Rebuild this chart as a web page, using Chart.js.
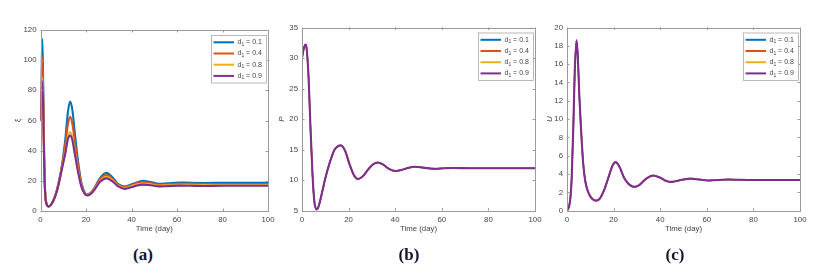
<!DOCTYPE html>
<html>
<head>
<meta charset="utf-8">
<script src="https://cdn.jsdelivr.net/npm/chart.js@4.4.1/dist/chart.umd.min.js"></script>
<style>
  html, body { margin: 0; padding: 0; background: #ffffff; }
  body { width: 822px; height: 275px; position: relative; overflow: hidden; }
  .panel { position: absolute; top: 0; }
  .plabel { position: absolute; top: 245px; font-family: "Liberation Serif", "DejaVu Serif", serif;
            font-weight: bold; font-size: 17px; color: #14142e; transform: translateX(-50%); white-space: nowrap; }
</style>
</head>
<body>
<div class="panel" style="left:0px"><canvas id="ca" width="280" height="240"></canvas></div>
<div class="panel" style="left:270px"><canvas id="cb" width="280" height="240"></canvas></div>
<div class="panel" style="left:540px"><canvas id="cc" width="282" height="240"></canvas></div>
<div class="plabel" style="left:143px">(a)</div>
<div class="plabel" style="left:409px">(b)</div>
<div class="plabel" style="left:675px">(c)</div>
<script>
// ---------------- data ----------------
const d1Values = ['0.1', '0.4', '0.8', '0.9'];
const seriesColors = ['#0072BD', '#D95319', '#EDB120', '#7E2F8E'];
const xTicks = [0, 20, 40, 60, 80, 100];

// panel (a): xi
const timeA = [0, 0.4, 0.8, 1.2, 1.6, 2.0, 2.6, 3.6, 5, 6.5, 8, 9.5, 11, 12, 13, 14, 15, 16.5, 18, 19.5, 20.5, 22, 24, 26, 29, 31.5, 34, 37, 41, 45, 48.5, 52, 56, 61, 66, 72, 80, 90, 100];
const xiD01 = [60, 92, 114, 82, 38, 14, 5, 3, 5, 10, 19, 31, 49, 65, 72.5, 67, 53, 33, 18.5, 12, 11, 12, 16, 21.5, 25.3, 22.5, 18, 16.2, 18.2, 20, 19.2, 18, 18.4, 18.9, 18.7, 18.6, 18.7, 18.7, 18.7];
const xiD04 = [60, 84, 102, 76, 36, 13.5, 5, 3, 5, 10, 18.5, 30, 45, 57, 62.4, 58, 47, 30, 17.5, 11.8, 10.7, 11.8, 15.5, 20.5, 23.8, 21.5, 17.5, 15.7, 17.6, 19.2, 18.5, 17.4, 17.7, 18.1, 18, 17.9, 17.9, 17.9, 17.9];
const xiD08 = [60, 77, 88.4, 69, 34, 13, 5, 3, 5, 10, 18, 29, 40, 49, 52.2, 49, 40, 27, 16.5, 11.5, 10.5, 11.5, 15, 19.5, 22.6, 20.5, 17, 15.2, 17, 18.2, 17.7, 16.8, 17.1, 17.4, 17.3, 17.2, 17.2, 17.2, 17.2];
const xiD09 = [60, 75, 86, 67, 33, 12.8, 5, 3, 5, 10, 17.8, 28.5, 39, 47.5, 50, 47, 38.5, 26, 16, 11.2, 10.3, 11.2, 14.6, 19, 21.6, 19.8, 16.5, 14.7, 16.3, 17.5, 17.1, 16.3, 16.5, 16.8, 16.7, 16.6, 16.7, 16.7, 16.7];
const yTicksA = [0, 20, 40, 60, 80, 100, 120];

// panel (b): P (all four d1 curves coincide)
const timeB = [0, 0.8, 1.6, 2.0, 2.8, 3.6, 4.5, 5.3, 6.3, 7.2, 8.5, 10, 12, 14, 16.7, 18.5, 20.5, 22.3, 24, 26, 28.5, 30.5, 32.5, 35, 37.5, 40, 43, 45.5, 48.5, 52, 57, 61, 65, 72, 80, 100];
const pAll = [30, 31.6, 32.2, 31.5, 27, 19, 11, 6.5, 5.2, 5.8, 7.8, 10.3, 13, 15, 15.7, 14.8, 12.5, 10.8, 10.2, 10.6, 11.8, 12.6, 12.9, 12.5, 11.8, 11.5, 11.7, 12.0, 12.2, 12.05, 11.85, 11.95, 12.0, 11.95, 11.95, 11.95];
const yTicksB = [5, 10, 15, 20, 25, 30, 35];

// panel (c): U (all four d1 curves coincide)
const timeC = [0, 0.5, 1, 1.5, 2, 2.7, 3.3, 4.1, 4.7, 5.3, 6, 7, 8, 9.5, 11, 12.5, 14, 16, 18, 19.5, 20.9, 22.5, 24.5, 26.5, 28.8, 31, 34, 37, 40, 42.5, 45, 49, 53, 57, 61, 69, 80, 100];
const uAll = [0, 0.2, 0.6, 1.5, 3.5, 9, 15, 18.6, 16.5, 12.5, 9, 5, 3, 1.8, 1.25, 1.1, 1.3, 2.3, 3.8, 4.9, 5.3, 4.8, 3.6, 2.9, 2.6, 2.8, 3.5, 3.85, 3.6, 3.25, 3.15, 3.35, 3.5, 3.4, 3.3, 3.4, 3.35, 3.35];
const yTicksC = [0, 2, 4, 6, 8, 10, 12, 14, 16, 18, 20];

// ---------------- helpers ----------------
const FONT = '"Liberation Sans", Arial, sans-serif';
const AXIS_COLOR = '#9a9a9a';
const TEXT_COLOR = '#444444';

function makeDatasets(time, seriesList, hiddenUnder) {
  return seriesList.map((vals, i) => ({
    label: 'd1 = ' + d1Values[i],
    data: time.map((t, k) => ({ x: t, y: vals[k] })),
    borderColor: seriesColors[i],
    backgroundColor: seriesColors[i],
    borderWidth: (hiddenUnder && i < seriesList.length - 1) ? 1.4 : 2.1,
    pointRadius: 0,
    fill: false,
    cubicInterpolationMode: 'monotone',
    order: seriesList.length - 1 - i
  }));
}

const matlabPlugin = {
  id: 'matlabFrame',
  afterDraw(chart, args, opts) {
    const ctx = chart.ctx;
    const a = chart.chartArea;
    const xs = chart.scales.x, ys = chart.scales.y;
    ctx.save();
    // box
    ctx.strokeStyle = AXIS_COLOR;
    ctx.lineWidth = 1;
    ctx.strokeRect(Math.round(a.left) + 0.5, Math.round(a.top) + 0.5,
                   Math.round(a.right) - Math.round(a.left), Math.round(a.bottom) - Math.round(a.top));
    // inward ticks on all sides
    const tl = 2.5;
    ctx.beginPath();
    xs.ticks.forEach(t => {
      const px = Math.round(xs.getPixelForValue(t.value)) + 0.5;
      ctx.moveTo(px, a.bottom); ctx.lineTo(px, a.bottom - tl);
      ctx.moveTo(px, a.top); ctx.lineTo(px, a.top + tl);
    });
    ys.ticks.forEach(t => {
      const py = Math.round(ys.getPixelForValue(t.value)) + 0.5;
      ctx.moveTo(a.left, py); ctx.lineTo(a.left + tl, py);
      ctx.moveTo(a.right, py); ctx.lineTo(a.right - tl, py);
    });
    ctx.stroke();
    // axis titles
    ctx.fillStyle = TEXT_COLOR;
    ctx.font = '7.8px ' + FONT;
    ctx.textAlign = 'center';
    ctx.textBaseline = 'middle';
    ctx.fillText('Time (day)', (a.left + a.right) / 2, 229);
    ctx.save();
    ctx.translate(opts.yTitleX, (a.top + a.bottom) / 2);
    ctx.rotate(-Math.PI / 2);
    ctx.font = (opts.yTitleItalic ? 'italic ' : '') + '8px ' + FONT;
    ctx.fillText(opts.yTitle, 0, 0);
    ctx.restore();
    // legend
    const w = 55, h = 47.5;
    const bx = a.right - 1.5 - w, by = a.top + 5.5;
    ctx.fillStyle = '#ffffff';
    ctx.fillRect(bx, by, w, h);
    ctx.strokeStyle = '#a8a8a8';
    ctx.lineWidth = 0.8;
    ctx.strokeRect(bx, by, w, h);
    const ds = chart.data.datasets;
    ds.forEach((d, i) => {
      const ry = by + 6.8 + i * 11.2;
      ctx.strokeStyle = d.borderColor;
      ctx.lineWidth = 2;
      ctx.beginPath();
      ctx.moveTo(bx + 2, ry); ctx.lineTo(bx + 22.5, ry);
      ctx.stroke();
      ctx.fillStyle = TEXT_COLOR;
      ctx.textAlign = 'left';
      ctx.textBaseline = 'middle';
      ctx.font = '7px ' + FONT;
      let tx = bx + 26;
      ctx.fillText('d', tx, ry);
      tx += ctx.measureText('d').width;
      ctx.font = '5px ' + FONT;
      ctx.fillText('1', tx, ry + 2.2);
      tx += ctx.measureText('1').width;
      ctx.font = '7px ' + FONT;
      ctx.fillText(' = ' + d1Values[i], tx, ry);
    });
    ctx.restore();
  }
};

function makeChart(id, time, seriesList, yTicks, geom, yTitle, italic, hiddenUnder) {
  const ctx = document.getElementById(id);
  return new Chart(ctx, {
    type: 'line',
    data: { datasets: makeDatasets(time, seriesList, hiddenUnder) },
    plugins: [matlabPlugin],
    options: {
      responsive: false,
      animation: false,
      events: [],
      layout: { padding: { left: 0, top: geom.top, right: geom.right, bottom: 0 } },
      plugins: {
        legend: { display: false },
        tooltip: { enabled: false },
        matlabFrame: { yTitle: yTitle, yTitleX: geom.yTitleX, yTitleItalic: italic }
      },
      scales: {
        x: {
          type: 'linear',
          min: xTicks[0], max: xTicks[xTicks.length - 1],
          afterBuildTicks: s => { s.ticks = xTicks.map(v => ({ value: v })); },
          afterFit: s => { s.height = geom.xh; },
          grid: { display: false, drawTicks: false },
          border: { display: false },
          ticks: { color: TEXT_COLOR, font: { family: FONT, size: 7.8 }, padding: 4, maxRotation: 0 }
        },
        y: {
          type: 'linear',
          min: yTicks[0], max: yTicks[yTicks.length - 1],
          afterBuildTicks: s => { s.ticks = yTicks.map(v => ({ value: v })); },
          afterFit: s => { s.width = geom.yw; },
          grid: { display: false, drawTicks: false },
          border: { display: false },
          ticks: { color: TEXT_COLOR, font: { family: FONT, size: 7.8 }, padding: 4 }
        }
      }
    }
  });
}

makeChart('ca', timeA, [xiD01, xiD04, xiD08, xiD09], yTicksA,
          { top: 30, right: 12, xh: 29, yw: 40.5, yTitleX: 18 }, 'ξ', false, false);
makeChart('cb', timeB, [pAll, pAll, pAll, pAll], yTicksB,
          { top: 27.5, right: 15, xh: 29.3, yw: 32, yTitleX: 12 }, 'P', true, true);
makeChart('cc', timeC, [uAll, uAll, uAll, uAll], yTicksC,
          { top: 27.5, right: 22, xh: 29.3, yw: 27, yTitleX: 10 }, 'U', true, true);
</script>
</body>
</html>
